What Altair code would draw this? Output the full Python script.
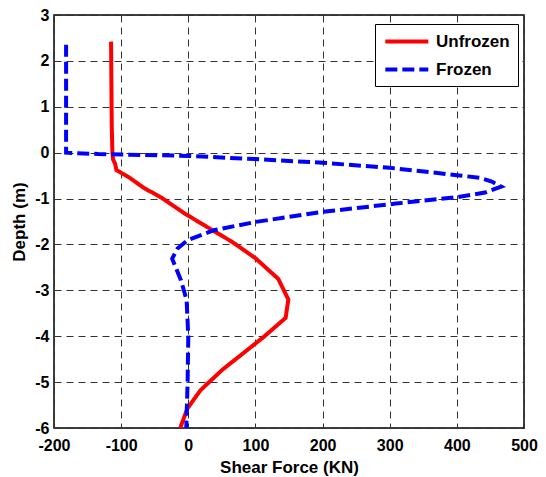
import altair as alt
import pandas as pd

# Unfrozen (red solid)
unfrozen_depth = [2.42, 0.6, 0.0, -0.15, -0.24, -0.38, -0.44, -0.54, -0.77, -0.98,
                  -1.32, -1.69, -1.95, -2.30, -2.75, -3.2, -3.6, -4.02, -4.31, -4.74,
                  -5.18, -5.58, -6.0]
unfrozen_force = [-115, -114, -113, -112, -109, -107, -100, -88, -66, -40,
                  -6, 36, 66, 100, 134, 149, 145, 112, 87, 50,
                  18, -1.5, -12]

# Frozen (blue dashed)
frozen_depth = [2.35, 0.0, -0.03, -0.07, -0.14, -0.22, -0.33, -0.49, -0.55, -0.63,
                -0.74, -0.87, -0.97, -1.11, -1.29, -1.51, -1.69, -1.91, -2.09, -2.31,
                -2.78, -3.21, -4.0, -5.0, -6.0]
frozen_force = [-182, -182, -134, 0, 100, 200, 300, 400, 435, 452,
                466, 442, 400, 309, 200, 100, 38, -1.5, -16, -24,
                -11, -2.5, 0, -1, -3]

series_names = ["Unfrozen", "Frozen"]
x_ticks = [-200, -100, 0, 100, 200, 300, 400, 500]
y_ticks = [-6, -5, -4, -3, -2, -1, 0, 1, 2, 3]

rows = []
for i, (d, f) in enumerate(zip(unfrozen_depth, unfrozen_force)):
    rows.append({"series": "Unfrozen", "depth": d, "force": f, "i": i})
for i, (d, f) in enumerate(zip(frozen_depth, frozen_force)):
    rows.append({"series": "Frozen", "depth": d, "force": f, "i": i})
df = pd.DataFrame(rows)

FONT = "Liberation Sans"
hyphen_label = "(datum.value < 0 ? '-' : '') + abs(datum.value)"

chart = alt.Chart(df).mark_line(strokeWidth=4, strokeCap="butt", clip=True).encode(
    x=alt.X("force:Q",
            scale=alt.Scale(domain=[-200, 500], nice=False, zero=False),
            axis=alt.Axis(values=x_ticks, title="Shear Force (KN)",
                          titleY=44, titleBaseline="alphabetic",
                          labelPadding=9, labelExpr=hyphen_label)),
    y=alt.Y("depth:Q",
            scale=alt.Scale(domain=[-6, 3], nice=False, zero=False),
            axis=alt.Axis(values=y_ticks, title="Depth (m)",
                          titleX=-30, titleBaseline="alphabetic",
                          labelPadding=5, labelExpr=hyphen_label)),
    color=alt.Color("series:N",
                    scale=alt.Scale(domain=series_names, range=["#ff0000", "#0000ff"]),
                    legend=alt.Legend(title=None)),
    strokeDash=alt.StrokeDash("series:N",
                              scale=alt.Scale(domain=series_names, range=[[1, 0], [12, 5]]),
                              legend=alt.Legend(title=None)),
    order=alt.Order("i:Q"),
).properties(
    width=470,
    height=413,
    autosize=alt.AutoSizeParams(type="none"),
    padding={"left": 46, "top": 7, "right": 14, "bottom": 49},
).configure_view(
    stroke="black", strokeWidth=1.5
).configure_axis(
    grid=True, gridColor="#333333", gridDash=[7, 5], gridOpacity=1, gridWidth=1,
    ticks=False, domain=False,
    labelFont=FONT, labelFontSize=16, labelFontWeight="bold", labelColor="black",
    labelFlush=False, labelOverlap=False, labelBound=False,
    titleFont=FONT, titleFontSize=17, titleFontWeight="bold", titleColor="black",
).configure_legend(
    orient="none", legendX=321, legendY=9,
    fillColor="white", strokeColor="black", padding=8,
    symbolType="M-1,0H5", symbolSize=205, symbolStrokeWidth=4,
    labelFont=FONT, labelFontSize=17, labelFontWeight="bold", labelColor="black",
    rowPadding=10, labelOffset=34,
)

chart.save("out.html", embed_options={"renderer": "svg", "actions": False})
